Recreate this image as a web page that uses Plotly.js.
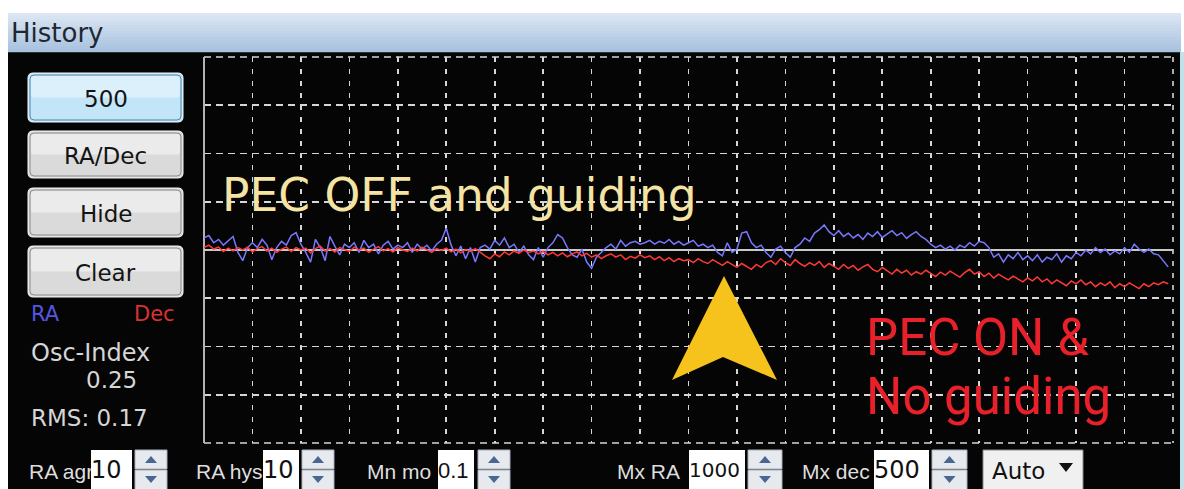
<!DOCTYPE html>
<html><head><meta charset="utf-8">
<script src="https://cdn.plot.ly/plotly-3.0.1.min.js"></script>
<style>html,body{margin:0;padding:0;background:#fff;overflow:hidden}#chart{width:1184px;height:489px}</style>
</head><body><div id="chart"></div>
<script>
// ---- data (graph units: one grid division = 1.0) ----
const raValues = [
0.25,0.30,0.15,0.22,0.10,0.20,0.28,-0.05,-0.22,0.05,
0.15,0.05,0.22,0.10,-0.20,0.05,0.18,0.10,0.30,0.36,
0.12,-0.05,-0.25,0.22,0.05,-0.22,0.28,0.08,-0.10,0.12,
0.05,0.15,-0.05,0.20,0.05,0.12,-0.08,0.10,0.18,0.02,
0.10,0.05,0.15,-0.05,0.12,0.02,0.10,-0.02,0.12,0.20,
0.45,0.10,-0.12,0.08,-0.18,0.05,-0.25,0.05,0.10,0.02,
0.20,0.10,0.25,0.05,0.12,-0.05,0.08,-0.10,-0.20,0.05,
-0.15,0.05,0.15,0.32,0.25,0.05,-0.10,-0.15,0.02,-0.25,
-0.38,-0.15,-0.05,0.05,0.12,0.02,0.20,0.08,0.15,0.18,
0.12,0.15,0.20,0.12,0.18,0.14,0.22,0.12,0.18,0.10,
0.15,0.20,0.08,0.12,0.05,0.10,-0.05,-0.12,0.15,-0.05,
0.02,0.35,0.38,0.15,0.05,0.10,-0.05,-0.15,0.02,0.08,
-0.05,-0.15,0.05,0.12,0.25,0.18,0.35,0.42,0.52,0.38,
0.30,0.40,0.28,0.35,0.25,0.32,0.22,0.35,0.28,0.38,
0.26,0.33,0.40,0.30,0.36,0.24,0.32,0.38,0.28,0.22,
0.12,0.05,0.10,0.02,0.08,0.00,0.10,0.05,0.15,0.08,
0.18,0.15,0.05,-0.15,-0.08,-0.25,-0.10,-0.18,-0.05,-0.20,
-0.12,-0.22,-0.10,-0.25,-0.15,-0.20,-0.08,-0.25,-0.12,-0.18,
-0.05,-0.12,0.00,-0.08,0.05,-0.05,0.02,-0.10,-0.02,-0.08,
0.05,-0.05,0.12,0.02,-0.05,0.02,-0.08,-0.10,-0.22,-0.35
];
const decValues = [
0.05,0.10,0.02,0.06,-0.03,0.04,-0.02,0.05,0.00,0.06,
-0.04,0.03,0.07,-0.02,0.04,-0.05,0.02,0.06,-0.03,0.05,
0.00,0.04,-0.06,0.03,0.08,-0.02,0.03,-0.04,0.05,0.01,
-0.03,0.06,0.00,0.04,-0.05,0.02,0.07,-0.02,0.03,-0.04,
0.05,0.00,-0.03,0.04,-0.02,0.06,0.01,-0.05,0.03,-0.01,
0.04,-0.04,0.02,-0.06,0.01,-0.03,0.03,-0.05,-0.12,-0.18,
-0.08,-0.14,-0.04,-0.10,-0.02,-0.07,0.00,-0.05,-0.02,-0.08,
-0.03,-0.10,-0.05,-0.12,-0.06,-0.14,-0.08,-0.04,-0.12,-0.07,
-0.15,-0.10,-0.18,-0.12,-0.08,-0.15,-0.10,-0.20,-0.13,-0.17,
-0.10,-0.16,-0.12,-0.20,-0.14,-0.22,-0.16,-0.24,-0.18,-0.22,
-0.20,-0.26,-0.18,-0.24,-0.28,-0.20,-0.26,-0.32,-0.24,-0.30,
-0.36,-0.28,-0.34,-0.40,-0.30,-0.36,-0.26,-0.22,-0.30,-0.18,
-0.26,-0.32,-0.20,-0.28,-0.34,-0.26,-0.32,-0.24,-0.36,-0.28,
-0.34,-0.40,-0.30,-0.38,-0.32,-0.42,-0.35,-0.30,-0.40,-0.45,
-0.36,-0.44,-0.50,-0.40,-0.48,-0.42,-0.52,-0.45,-0.50,-0.42,
-0.48,-0.55,-0.46,-0.52,-0.44,-0.50,-0.56,-0.47,-0.40,-0.50,
-0.45,-0.55,-0.48,-0.58,-0.50,-0.56,-0.62,-0.54,-0.60,-0.66,
-0.58,-0.64,-0.56,-0.66,-0.60,-0.70,-0.62,-0.68,-0.74,-0.64,
-0.70,-0.62,-0.72,-0.66,-0.76,-0.68,-0.74,-0.66,-0.78,-0.70,
-0.76,-0.68,-0.74,-0.80,-0.70,-0.76,-0.68,-0.72,-0.66,-0.70
];
const sampleIndex = raValues.map((_, i) => i);
const seriesNames = ['RA', 'Dec'];
const buttonLabels = ['500', 'RA/Dec', 'Hide', 'Clear'];
const statLabels = ['Osc-Index', '0.25', 'RMS: 0.17'];
const controlLabels = ['RA agr', 'RA hys', 'Mn mo', 'Mx RA', 'Mx dec'];
const controlValues = ['10', '10', '0.1', '1000', '500'];
const dropdownLabel = 'Auto';

// ---- pixel -> paper helpers (layout only) ----
const L = 204, T = 57, PW = 969, PH = 386;
const px = x => (x - L) / PW;
const py = y => (T + PH - y) / PH;

const shapes = [];
const annotations = [];
function rect(x0, y0, x1, y1, fill, line, lw, layer) {
  shapes.push({type:'rect', xref:'paper', yref:'paper', x0:px(x0), x1:px(x1), y0:py(y1), y1:py(y0),
    fillcolor:fill, line:{color:line || fill, width:lw || 0}, layer:layer || 'above'});
}
function path(d, fill, line, lw, layer) {
  shapes.push({type:'path', xref:'paper', yref:'paper', path:d, fillcolor:fill,
    line:{color:line || fill, width:lw || 0}, layer:layer || 'above'});
}
function dline(x0, y0, x1, y1, dash) {
  shapes.push({type:'line', xref:'paper', yref:'paper', x0:px(x0), x1:px(x1), y0:py(y0), y1:py(y1),
    line:{color:'#d6d6d6', width:1.6, dash:dash}, layer:'below'});
}
function rrPath(x0, y0, x1, y1, r) {
  const X = px, Y = py;
  return `M${X(x0+r)},${Y(y0)} L${X(x1-r)},${Y(y0)} Q${X(x1)},${Y(y0)} ${X(x1)},${Y(y0+r)} ` +
    `L${X(x1)},${Y(y1-r)} Q${X(x1)},${Y(y1)} ${X(x1-r)},${Y(y1)} L${X(x0+r)},${Y(y1)} ` +
    `Q${X(x0)},${Y(y1)} ${X(x0)},${Y(y1-r)} L${X(x0)},${Y(y0+r)} Q${X(x0)},${Y(y0)} ${X(x0+r)},${Y(y0)} Z`;
}
function poly(pts) {
  return 'M' + pts.map(p => px(p[0]) + ',' + py(p[1])).join(' L') + ' Z';
}
function txt(text, x, y, opts) {
  const a = {xref:'paper', yref:'paper', x:px(x), y:py(y), text:text, showarrow:false,
    xanchor:'left', yanchor:'middle', font:{family:'DejaVu Sans', size:22, color:'#d8d8d8'}};
  annotations.push(Object.assign(a, opts || {}));
}
function hex(c) { return [1,3,5].map(i => parseInt(c.substr(i,2),16)); }
function mix(a, b, t) {
  const A = hex(a), B = hex(b);
  return 'rgb(' + A.map((v, i) => Math.round(v + (B[i]-v)*t)).join(',') + ')';
}

// window background
rect(8, 52, 1180, 495, '#050505', null, 0, 'below');
rect(1180, 52, 1184, 495, '#bfe2ea', null, 0, 'below');
// title bar gradient
const bands = 13;
for (let k = 0; k < bands; k++) {
  const y0 = 13 + k * 3;
  rect(8, y0, 1181, y0 + 3.2, mix('#dbe6f2', '#a8c2df', k / (bands - 1)), null, 0, 'below');
}
txt('History', 9, 33, {font:{family:'DejaVu Sans', size:26, color:'#1d2833'}});

// outer grid edges (dashed, like the inner grid)
dline(L, T, L + PW, T, '7px,5px');
dline(L, T + PH, L + PW, T + PH, '7px,5px');
dline(L + PW, T, L + PW, T + PH, '5px,7px');

// buttons
const btnY = [[73,122],[131,178],[188,237],[246,297]];
buttonLabels.forEach((lab, k) => {
  const [y0, y1] = btnY[k];
  const first = k === 0;
  path(rrPath(28, y0, 183, y1, 5), first ? '#c2e5f8' : '#dadada', '#f4f4f4', 1);
  path(rrPath(31, y0 + 3, 180, (y0 + y1) / 2, 3), first ? '#dcf0fb' : '#ebebeb', null, 0);
  path(rrPath(30, y0 + 2, 181, y1 - 2, 4), 'rgba(0,0,0,0)', first ? '#4b86b4' : '#8c8c8c', 1);
  txt(lab, 105.5, (y0 + y1) / 2 + 1, {xanchor:'center', font:{family:'DejaVu Sans', size:23, color:'#141414'}});
});

// legend-like labels and stats
txt(seriesNames[0], 29, 314, {font:{family:'DejaVu Sans', size:21, color:'#5656e0'}});
txt(seriesNames[1], 177, 314, {xanchor:'right', font:{family:'DejaVu Sans', size:21, color:'#d83232'}});
txt(statLabels[0], 29, 353, {font:{family:'DejaVu Sans', size:24, color:'#d6d6d6'}});
txt(statLabels[1], 84, 380, {font:{family:'DejaVu Sans', size:23, color:'#d6d6d6'}});
txt(statLabels[2], 29, 418, {font:{family:'DejaVu Sans', size:23, color:'#d6d6d6'}});

// bottom controls
const ctrl = [
  {lx:27, bx0:91, bx1:132, sx0:135, sx1:167},
  {lx:194, bx0:263, bx1:299, sx0:302, sx1:334},
  {lx:365, bx0:438, bx1:474, sx0:478, sx1:510},
  {lx:615, bx0:689, bx1:745, sx0:748, sx1:782},
  {lx:800, bx0:874, bx1:929, sx0:932, sx1:967}
];
ctrl.forEach((c, k) => {
  txt(controlLabels[k], c.lx, 471, {font:{family:'Liberation Sans', size:21, color:'#dedede'}});
  annotations.push({xref:'paper', yref:'paper', x:px(c.bx0), y:py(450), xanchor:'left', yanchor:'top',
    width:c.bx1 - c.bx0, height:40, align:'left', valign:'middle', bgcolor:'#ffffff', borderwidth:0, borderpad:0,
    showarrow:false, text:controlValues[k],
    font:{family:k === 2 ? 'Liberation Sans' : 'DejaVu Sans', size:k === 2 ? 22 : (k === 3 ? 20 : 24), color:'#111'}});
  rect(c.sx0, 450, c.sx1, 469, '#e6eaef', '#a8b0b8', 1);
  rect(c.sx0, 470, c.sx1, 492, '#e6eaef', '#a8b0b8', 1);
  const m = (c.sx0 + c.sx1) / 2;
  path(poly([[m - 6, 463], [m + 6, 463], [m, 456]]), '#4a6791');
  path(poly([[m - 6, 476], [m + 6, 476], [m, 483]]), '#4a6791');
});
rect(983, 450, 1083, 492, '#f0f0f0', '#8a8a8a', 1);
txt(dropdownLabel, 990, 471, {font:{family:'DejaVu Sans', size:23, color:'#111'}});
path(poly([[1059, 463], [1073, 463], [1066, 472]]), '#111');

// plot annotations
path(poly([[724, 276], [777, 380], [723, 357], [672, 380]]), '#f6c21c');
txt('PEC OFF and guiding', 220, 196, {font:{family:'DejaVu Sans', size:45.5, color:'#f4e3a2'}});
txt('PEC ON &amp;', 864, 338, {font:{family:'Roboto', size:51, color:'#e8202a'}});
txt('No guiding', 864, 396, {font:{family:'Roboto', size:51, color:'#e8202a'}});

const traces = [
  {x:sampleIndex, y:raValues, name:seriesNames[0], type:'scatter', mode:'lines',
   line:{color:'#7878ff', width:1.5}, hoverinfo:'skip'},
  {x:sampleIndex, y:decValues, name:seriesNames[1], type:'scatter', mode:'lines',
   line:{color:'#ff3a34', width:1.5}, hoverinfo:'skip'}
];

const layout = {
  width:1184, height:489,
  margin:{l:L, r:1184 - L - PW, t:T, b:489 - T - PH, pad:0},
  paper_bgcolor:'#ffffff', plot_bgcolor:'#050505',
  showlegend:false,
  xaxis:{range:[0, 200], tick0:0, dtick:10, showgrid:true, gridcolor:'#d6d6d6', gridwidth:1.6,
    griddash:'5px,7px', zeroline:true, zerolinecolor:'#b4b4b4', zerolinewidth:2,
    showticklabels:false, ticks:'', showline:false, fixedrange:true},
  yaxis:{range:[-4, 4], tick0:0, dtick:1, showgrid:true, gridcolor:'#d6d6d6', gridwidth:1.6,
    griddash:'7px,5px', zeroline:true, zerolinecolor:'#c8c8c8', zerolinewidth:1.6,
    showticklabels:false, ticks:'', showline:false, fixedrange:true},
  shapes:shapes,
  annotations:annotations
};
Plotly.newPlot('chart', traces, layout, {staticPlot:true, displayModeBar:false});
</script>
</body></html>
